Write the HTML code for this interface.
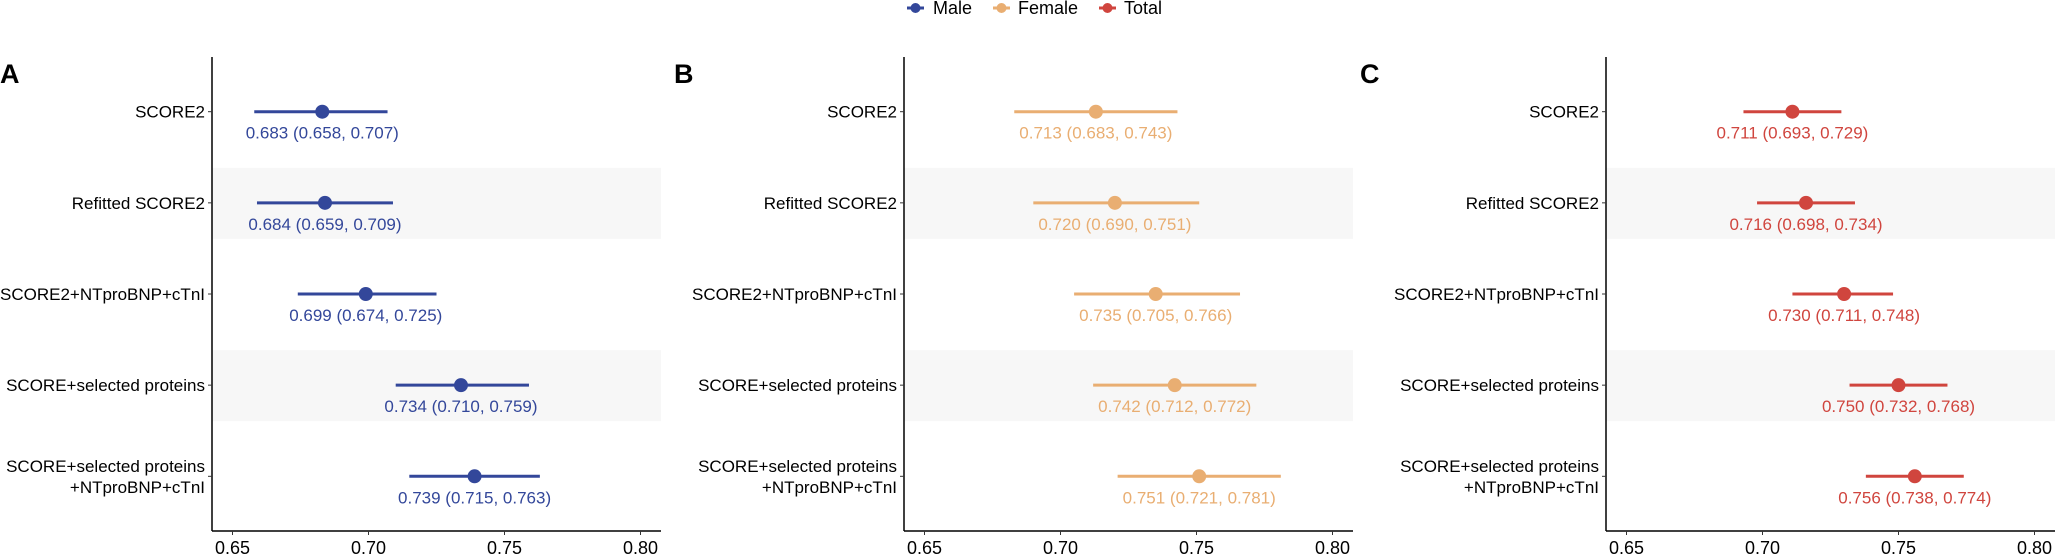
<!DOCTYPE html>
<html><head><meta charset="utf-8"><style>
html,body{margin:0;padding:0;background:#fff;}
svg{display:block;font-family:"Liberation Sans",Arial,sans-serif;}
</style></head><body>
<svg id="chart" width="2056" height="555" viewBox="0 0 2056 555">
  <g>
    <g>
      <line x1="907" y1="8" x2="924" y2="8" stroke="#33479a" stroke-width="3"/>
      <circle cx="915.5" cy="8" r="5" fill="#33479a"/>
      <text x="933" y="14" font-size="18">Male</text>
    </g>
    <g>
      <line x1="993" y1="8" x2="1010" y2="8" stroke="#e9ae72" stroke-width="3"/>
      <circle cx="1001.5" cy="8" r="5" fill="#e9ae72"/>
      <text x="1018" y="14" font-size="18">Female</text>
    </g>
    <g>
      <line x1="1099" y1="8" x2="1116" y2="8" stroke="#d0453e" stroke-width="3"/>
      <circle cx="1107.5" cy="8" r="5" fill="#d0453e"/>
      <text x="1124" y="14" font-size="18">Total</text>
    </g>
  </g>
  <g id="panels"></g>
</svg>
<script>
const categories = ["SCORE2", "Refitted SCORE2", "SCORE2+NTproBNP+cTnI", "SCORE+selected proteins", "SCORE+selected proteins\n+NTproBNP+cTnI"];
const maleEst = [0.683, 0.684, 0.699, 0.734, 0.739];
const maleLo  = [0.658, 0.659, 0.674, 0.710, 0.715];
const maleHi  = [0.707, 0.709, 0.725, 0.759, 0.763];
const femaleEst = [0.713, 0.720, 0.735, 0.742, 0.751];
const femaleLo  = [0.683, 0.690, 0.705, 0.712, 0.721];
const femaleHi  = [0.743, 0.751, 0.766, 0.772, 0.781];
const totalEst = [0.711, 0.716, 0.730, 0.750, 0.756];
const totalLo  = [0.693, 0.698, 0.711, 0.732, 0.738];
const totalHi  = [0.729, 0.734, 0.748, 0.768, 0.774];
const xTicks = [0.65, 0.70, 0.75, 0.80];
const xTickLabels = ["0.65", "0.70", "0.75", "0.80"];
const panelLetters = ["A", "B", "C"];
const panelNames = ["male", "female", "total"];

const NS = "http://www.w3.org/2000/svg";
const root = document.getElementById("panels");
function mk(tag, attrs, parent) {
  const e = document.createElementNS(NS, tag);
  for (const k in attrs) e.setAttribute(k, attrs[k]);
  parent.appendChild(e);
  return e;
}
const series = [
  {est: maleEst, lo: maleLo, hi: maleHi, color: "#33479a"},
  {est: femaleEst, lo: femaleLo, hi: femaleHi, color: "#e9ae72"},
  {est: totalEst, lo: totalLo, hi: totalHi, color: "#d0453e"}
];
const axisXs = [212, 904, 1606];
const letterXs = [0, 674, 1360];
const plotW = 449, plotTop = 57, plotBottom = 531;
const unit = (plotBottom - plotTop) / (categories.length - 1 + 1.2);

series.forEach((s, p) => {
  const ax = axisXs[p];
  const xScale = v => ax + 20.5 + (v - 0.65) / 0.05 * 136;
  const yScale = i => plotTop + unit * (0.6 + i);
  const g = mk("g", {}, root);
  
  

  const letter = mk("text", {x: letterXs[p], y: 83, "font-size": 27, "font-weight": "bold"}, g);
  letter.textContent = panelLetters[p];
  
  

  categories.forEach((c, i) => {
    if (i % 2 === 1) {
      const band = mk("rect", {x: ax, y: yScale(i) - 35, width: plotW, height: 71, fill: "#f7f7f7"}, g);
      
      
    }
  });

  const yAxis = mk("line", {x1: ax, y1: plotTop, x2: ax, y2: plotBottom, stroke: "#000", "stroke-width": 1.5}, g);
  
  
  const xAxis = mk("line", {x1: ax, y1: plotBottom, x2: ax + plotW, y2: plotBottom, stroke: "#000", "stroke-width": 1.5}, g);
  
  

  xTicks.forEach((t, k) => {
    const x = xScale(t);
    const tk = mk("line", {x1: x, y1: plotBottom, x2: x, y2: plotBottom + 4, stroke: "#333", "stroke-width": 1}, g);
    
    
    const tl = mk("text", {x: x, y: 554, "font-size": 18, "text-anchor": "middle", fill: "#000"}, g);
    tl.textContent = xTickLabels[k];
    
    
  });

  categories.forEach((c, i) => {
    const y = yScale(i);
    const tk = mk("line", {x1: ax - 4, y1: y, x2: ax, y2: y, stroke: "#333", "stroke-width": 1}, g);
    
    
    const lines = c.split("\n");
    const lbl = mk("text", {x: ax - 7, "font-size": 17, "text-anchor": "end", fill: "#000"}, g);
    
    
    lines.forEach((ln, j) => {
      const ts = mk("tspan", {x: ax - 7, y: y + 6 + (j - (lines.length - 1) / 2) * 21}, lbl);
      ts.textContent = ln;
    });

    const ci = mk("line", {x1: xScale(s.lo[i]), y1: y, x2: xScale(s.hi[i]), y2: y, stroke: s.color, "stroke-width": 3}, g);
    
    
    const pt = mk("circle", {cx: xScale(s.est[i]), cy: y, r: 7, fill: s.color}, g);
    
    
    const vl = mk("text", {x: xScale(s.est[i]), y: y + 27, "font-size": 17, "text-anchor": "middle", fill: s.color}, g);
    vl.textContent = s.est[i].toFixed(3) + " (" + s.lo[i].toFixed(3) + ", " + s.hi[i].toFixed(3) + ")";
    
    
  });
});
</script>
</body></html>
